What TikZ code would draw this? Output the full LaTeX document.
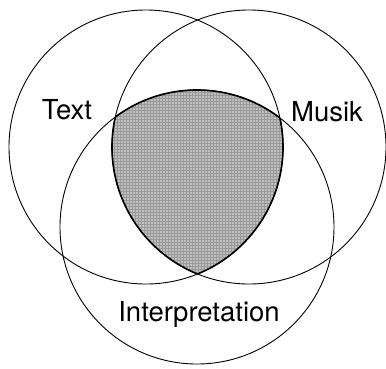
\documentclass[tikz,border=0pt]{standalone}
\usepackage{fontspec}
\setmainfont{TeX Gyre Heros}
\usepackage{tikz}
\usetikzlibrary{patterns}

\begin{document}
\begin{tikzpicture}[menge/.style={draw, circle, minimum size=2*137pt, inner sep=0pt, outer sep=0pt, line width=0.9pt},
		x=1pt, y=-1pt,
		label/.style={font=\fontsize{27.5}{32}\selectfont}]
		% Bildbereich
		\useasboundingbox (0,0) rectangle (386,368);
		% Mittelpunkte
		\coordinate (ctext) at (146,147);
		\coordinate (cmusik) at (249,147);
		\coordinate (cinterp) at (197,227);
		% Schnittmenge schattieren
		\begin{scope}
			\clip (ctext) circle [radius=137];
			\clip (cmusik) circle [radius=137];
			\fill[gray!50] (cinterp) circle [radius=137];
			\fill[pattern=grid, pattern color=gray!80] (cinterp) circle [radius=137];
		\end{scope}
		% Rand der Schnittmenge
		\begin{scope}
			\clip (ctext) circle [radius=137];
			\clip (cmusik) circle [radius=137];
			\draw[line width=1.6pt] (cinterp) circle [radius=137];
		\end{scope}
		\begin{scope}
			\clip (cinterp) circle [radius=137];
			\clip (cmusik) circle [radius=137];
			\draw[line width=1.6pt] (ctext) circle [radius=137];
		\end{scope}
		\begin{scope}
			\clip (cinterp) circle [radius=137];
			\clip (ctext) circle [radius=137];
			\draw[line width=1.6pt] (cmusik) circle [radius=137];
		\end{scope}
		% Kreise zeichnen
		\node[menge] (text) at (ctext) {};
		\node[menge] (musik) at (cmusik) {};
		\node[menge] (interp) at (cinterp) {};
		% Beschriftung
		\node[label] (ltext) at (67,110) {Text};
		\node[label] (lmusik) at (327,112) {Musik};
		\node[label] (linterp) at (199,314) {Interpretation};
	\end{tikzpicture}
\end{document}
